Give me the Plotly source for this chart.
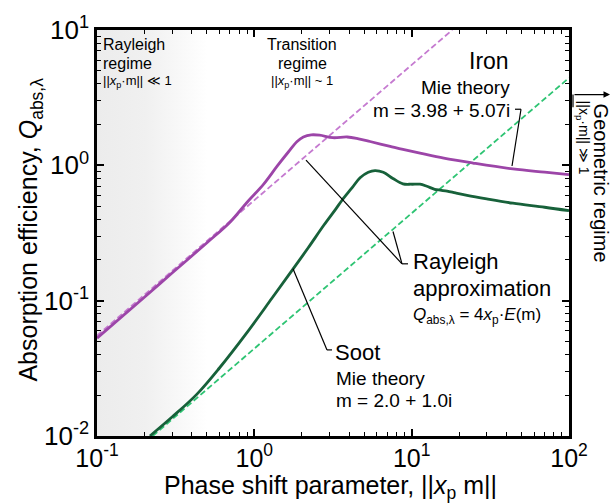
import plotly.graph_objects as go

# ---------------- data ----------------
iron_x = [0.1, 0.2, 0.3, 0.5, 0.7, 0.9, 1.15, 1.4, 1.65, 1.87, 2.05, 2.3, 2.6, 3.16, 3.9, 4.6, 5.44, 7.3, 8.8, 11.3, 16, 24.5, 44, 70, 100]
iron_q = [0.0529, 0.106, 0.160, 0.268, 0.38, 0.534, 0.73, 0.99, 1.26, 1.50, 1.62, 1.68, 1.67, 1.60, 1.62, 1.57, 1.50, 1.38, 1.31, 1.23, 1.13, 1.04, 0.94, 0.89, 0.855]

soot_x = [0.217, 0.3, 0.432, 0.6, 0.9, 1.3, 1.76, 2.2, 2.77, 3.3, 3.61, 4.2, 4.7, 5.3, 5.85, 6.6, 7.6, 8.8, 10.0, 11.3, 12.5, 14.0, 15.2, 16.8, 19.0, 22.5, 30, 44, 70, 100]
soot_q = [0.0100, 0.0138, 0.0204, 0.0318, 0.0583, 0.105, 0.171, 0.246, 0.362, 0.477, 0.552, 0.687, 0.81, 0.89, 0.915, 0.89, 0.80, 0.73, 0.725, 0.725, 0.70, 0.665, 0.655, 0.645, 0.625, 0.60, 0.565, 0.525, 0.49, 0.462]

iron_rayleigh_x = [0.1, 18.1]
iron_rayleigh_q = [0.0552, 10.0]
soot_rayleigh_x = [0.226, 100]
soot_rayleigh_q = [0.0100, 4.43]

rayleigh_zone_x = [0.1, 0.5, 0.5, 0.1]
rayleigh_zone_y = [0.01, 0.01, 10, 10]

x_tickvals = [0.1, 1, 10, 100]
x_ticktext = ["10<sup>-1</sup>", "10<sup>0</sup>", "10<sup>1</sup>", "10<sup>2</sup>"]
y_tickvals = [0.01, 0.1, 1, 10]
y_ticktext = ["10<sup>-2</sup>", "10<sup>-1</sup>", "10<sup>0</sup>", "10<sup>1</sup>"]
minor_vals_x = [m * 10.0 ** e for e in (-1, 0, 1) for m in range(2, 10)]
minor_vals_y = [m * 10.0 ** e for e in (-2, -1, 0) for m in range(2, 10)]

# ---------------- styling ----------------
FONT = "Liberation Sans, Arial, sans-serif"
PURPLE = "#9c45a8"
PURPLE_D = "#c57ad0"
DGREEN = "#17613a"
LGREEN = "#2ec473"

L, R, T, B = 97, 569, 21, 436
W, H = 611, 503


def px2paper(px, py):
    return (px - L) / (R - L), (B - py) / (B - T)


fig = go.Figure()

fig.add_trace(go.Scatter(
    x=rayleigh_zone_x, y=rayleigh_zone_y, mode="lines", fill="toself",
    line=dict(width=0), hoverinfo="skip", showlegend=False,
    fillgradient=dict(type="horizontal",
                      colorscale=[[0, "#ececec"], [0.45, "#f0f0f0"], [1, "#ffffff"]]),
))

fig.add_trace(go.Scatter(x=iron_rayleigh_x, y=iron_rayleigh_q, mode="lines",
                         line=dict(color=PURPLE_D, width=1.8, dash="6px,3px"), showlegend=False))
fig.add_trace(go.Scatter(x=soot_rayleigh_x, y=soot_rayleigh_q, mode="lines",
                         line=dict(color=LGREEN, width=1.8, dash="6px,3px"), showlegend=False))
fig.add_trace(go.Scatter(x=iron_x, y=iron_q, mode="lines", line_shape="spline",
                         line=dict(color=PURPLE, width=2.8), showlegend=False))
fig.add_trace(go.Scatter(x=soot_x, y=soot_q, mode="lines", line_shape="spline",
                         line=dict(color=DGREEN, width=2.8), showlegend=False))

annotations = []


def ann(text, px, py, size, xanchor="left", angle=0):
    xp, yp = px2paper(px, py)
    annotations.append(dict(text=text, x=xp, y=yp, xref="paper", yref="paper",
                            xanchor=xanchor, yanchor="middle", showarrow=False,
                            textangle=angle, font=dict(size=size, color="black", family=FONT)))


ann("Rayleigh", 101, 36, 16)
ann("regime", 101, 55, 16)
ann("||<i>x</i><sub>p</sub>·m|| ≪ 1", 101, 74, 13)

ann("Transition", 302, 36, 16, "center")
ann("regime", 302, 55, 16, "center")
ann("||<i>x</i><sub>p</sub>·m|| ~ 1", 302, 74, 13, "center")

ann("Iron", 511, 53, 23, "right")
ann("Mie theory", 512, 80, 19, "right")
ann("m = 3.98 + 5.07i", 512, 103, 19, "right")

ann("Rayleigh", 411, 258, 22)
ann("approximation", 411, 285, 22)
ann("<i>Q</i><sub>abs,λ</sub> = 4<i>x</i><sub>p</sub>·<i>E</i>(m)", 411, 313, 17)

ann("Soot", 333, 351, 22)
ann("Mie theory", 334, 377, 19)
ann("m = 2.0 + 1.0i", 334, 400, 19)

ann("Geometric regime", 601, 177, 20, "center", 90)
ann("||x<sub>p</sub>·m|| ≫ 1", 583, 131, 14, "center", 90)

ann("Absorption efficiency, <i>Q</i><sub>abs,λ</sub>", 30, 225, 25, "center", -90)
ann("Phase shift parameter, ||<i>x</i><sub>p</sub> m||", 330, 488, 25, "center")

# arrow for geometric regime
ax1, ay1 = px2paper(610, 87)
annotations.append(dict(x=ax1, y=ay1, ax=-37, ay=0, xref="paper", yref="paper",
                        axref="pixel", ayref="pixel", text="", showarrow=True,
                        arrowhead=2, arrowsize=1, arrowwidth=1.3, arrowcolor="black"))

shapes = []


def seg(p0, p1, width=1.2):
    x0, y0 = px2paper(*p0)
    x1, y1 = px2paper(*p1)
    shapes.append(dict(type="line", xref="paper", yref="paper", x0=x0, y0=y0, x1=x1, y1=y1,
                       line=dict(color="black", width=width)))


seg((573, 87), (573, 100))
# Iron leader
seg((515, 102), (521, 102))
seg((521, 102), (512, 160))
# Rayleigh approximation leaders
seg((306, 154), (402, 260))
seg((393, 227), (402, 260))
seg((402, 260), (408, 260))
# Soot leader
seg((293, 265), (327, 348))
seg((327, 348), (332, 348))

axis_common = dict(
    type="log", showgrid=False, zeroline=False, showline=True, linecolor="black",
    linewidth=2.5, mirror="allticks", ticks="inside", ticklen=7, tickwidth=1.6,
    tickcolor="black",
)

fig.update_layout(
    width=W, height=H, margin=dict(l=L, r=W - R, t=T, b=H - B),
    paper_bgcolor="white", plot_bgcolor="white", showlegend=False,
    font=dict(family=FONT, color="black"),
    xaxis=dict(range=[-1, 2], tickvals=x_tickvals, ticktext=x_ticktext,
               tickfont=dict(size=25, color="black", family=FONT), ticklabelstandoff=-2,
               minor=dict(tickvals=minor_vals_x, ticks="inside", ticklen=4, tickwidth=1.2, tickcolor="black"),
               **axis_common),
    yaxis=dict(range=[-2, 1], tickvals=y_tickvals, ticktext=y_ticktext,
               tickfont=dict(size=26, color="black", family=FONT),
               minor=dict(tickvals=minor_vals_y, ticks="inside", ticklen=4, tickwidth=1.2, tickcolor="black"),
               **axis_common),
    annotations=annotations, shapes=shapes,
)

fig.write_html("out.html")
